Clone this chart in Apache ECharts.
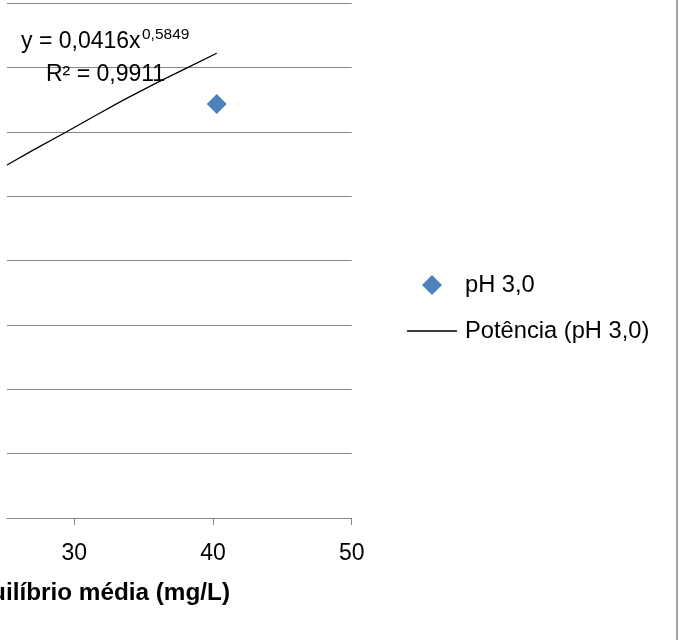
<!DOCTYPE html>
<html>
<head>
<meta charset="utf-8">
<script src="https://cdn.jsdelivr.net/npm/echarts@6/dist/echarts.min.js"></script>
<style>html,body{margin:0;padding:0;background:#fff}#c{width:680px;height:640px}</style>
</head>
<body>
<div id="c"></div>
<script>
// Data
const seriesName = 'pH 3,0';
const trendName = 'Potência (pH 3,0)';
const pointsX = [40.27];
const pointsY = [0.3215];
// trendline readings along the drawn curve (visible part)
const trendX = [25.15, 27.0, 29.45, 31.5, 33.5, 36.0, 38.2, 40.27];
const trendY = [0.2742, 0.2855, 0.300, 0.3124, 0.3244, 0.3384, 0.350, 0.361];
const xVisibleMin = 25.15;
const xTicks = [30, 40, 50];
const yTicks = [0, 0.05, 0.1, 0.15, 0.2, 0.25, 0.3, 0.35, 0.4];
const eqMain = 'y = 0,0416x';
const eqExp = '0,5849';
const r2Text = 'R² = 0,9911';
const xTitle = 'Concentração de equilíbrio média (mg/L)';

const FONT = 'Liberation Sans';
const chart = echarts.init(document.getElementById('c'), null, {renderer: 'canvas'});
chart.setOption({
  animation: false,
  backgroundColor: '#fff',
  grid: {left: 7, right: 328.3, top: 3, bottom: 122, containLabel: false},
  xAxis: {
    type: 'value', min: xVisibleMin, max: xTicks[xTicks.length - 1],
    axisLine: {show: true, lineStyle: {color: '#868686', width: 1}},
    axisTick: {show: true, length: 7, customValues: xTicks, lineStyle: {color: '#868686'}},
    axisLabel: {show: true, customValues: xTicks, color: '#000', fontFamily: FONT, fontSize: 23, margin: 24},
    splitLine: {show: false}
  },
  yAxis: {
    type: 'value', min: yTicks[0], max: yTicks[yTicks.length - 1], interval: 0.05,
    axisLine: {show: false}, axisTick: {show: false}, axisLabel: {show: false},
    splitLine: {show: true, lineStyle: {color: '#868686', width: 1}}
  },
  legend: {
    orient: 'vertical', left: 407, top: 273, padding: 0,
    itemWidth: 50, itemHeight: 20, itemGap: 22, symbolKeepAspect: true,
    textStyle: {color: '#000', fontFamily: FONT, fontSize: 23.7, padding: [0, 0, 0, 3]},
    data: [
      {name: seriesName, icon: 'path://M0,-1L1,0L0,1L-1,0Z'},
      {name: trendName, icon: 'path://M0,0L50,0L50,1.3L0,1.3Z'}
    ]
  },
  series: [
    {
      name: trendName, type: 'line', showSymbol: false, symbol: 'none',
      lineStyle: {color: '#000', width: 1.3}, itemStyle: {color: '#000'},
      data: trendX.map((x, i) => [x, trendY[i]]), z: 2
    },
    {
      name: seriesName, type: 'scatter', symbol: 'diamond', symbolSize: 20,
      itemStyle: {color: '#4F81BD', opacity: 1},
      data: pointsX.map((x, i) => [x, pointsY[i]]), z: 3
    }
  ],
  graphic: [
    {type: 'line', shape: {x1: 677, y1: 0, x2: 677, y2: 640}, style: {stroke: '#868686', lineWidth: 1.5}, z: 100},
    {type: 'text', x: 21, y: 42, style: {text: eqMain, fill: '#000', font: '23px "Liberation Sans"', textVerticalAlign: 'middle'}, z: 101},
    {type: 'text', x: 142, y: 35, style: {text: eqExp, fill: '#000', font: '15.5px "Liberation Sans"', textVerticalAlign: 'middle'}, z: 101},
    {type: 'text', x: 46, y: 75, style: {text: r2Text, fill: '#000', font: '23px "Liberation Sans"', textVerticalAlign: 'middle'}, z: 101},
    {type: 'text', x: 230, y: 593, style: {text: xTitle, fill: '#000', font: 'bold 24.3px "Liberation Sans"', textAlign: 'right', textVerticalAlign: 'middle'}, z: 101}
  ]
});
</script>
</body>
</html>
